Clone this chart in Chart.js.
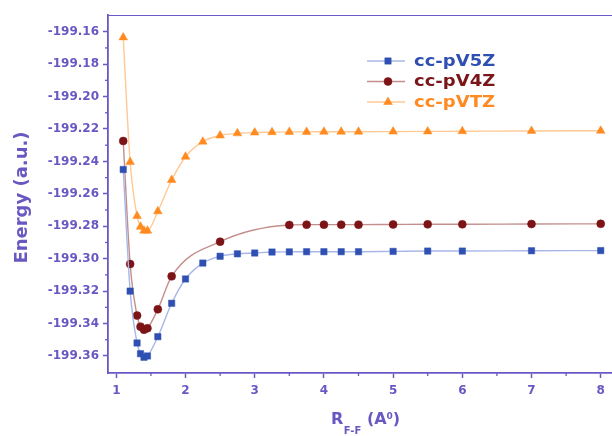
<!DOCTYPE html>
<html><head><meta charset="utf-8">
<script src="https://cdn.jsdelivr.net/npm/chart.js@4"></script>
<style>html,body{margin:0;padding:0;background:#fff;overflow:hidden}</style>
</head><body>
<canvas id="c" width="612" height="436"></canvas>
<script>
// ---------- data ----------
const seriesNames = ['cc-pV5Z', 'cc-pV4Z', 'cc-pVTZ'];

const r5Z = [1.1, 1.2, 1.3, 1.35, 1.4, 1.45, 1.6, 1.8, 2.0, 2.25, 2.5, 2.75, 3.0, 3.25, 3.5, 3.75, 4.0, 4.25, 4.5, 5, 5.5, 6, 7, 8];
const e5Z = [-199.245, -199.320, -199.352, -199.3586, -199.3608, -199.3600, -199.3481, -199.3275, -199.3125, -199.3027, -199.2985, -199.2970, -199.2965, -199.2959, -199.2958, -199.2957, -199.2957, -199.2957, -199.2957, -199.2955, -199.2953, -199.2953, -199.2951, -199.2950];

const r4Z = [1.1, 1.2, 1.3, 1.35, 1.4, 1.45, 1.6, 1.8, 2.5, 3.5, 3.75, 4.0, 4.25, 4.5, 5, 5.5, 6, 7, 8];
const e4Z = [-199.2274, -199.3033, -199.3351, -199.3419, -199.3438, -199.3429, -199.3312, -199.3109, -199.2895, -199.2792, -199.2790, -199.2790, -199.2790, -199.2790, -199.2789, -199.2788, -199.2788, -199.2786, -199.2785];

const rTZ = [1.1, 1.2, 1.3, 1.35, 1.4, 1.45, 1.6, 1.8, 2.0, 2.25, 2.5, 2.75, 3.0, 3.25, 3.5, 3.75, 4.0, 4.25, 4.5, 5, 5.5, 6, 7, 8];
const eTZ = [-199.1635, -199.2404, -199.2737, -199.2803, -199.2827, -199.2827, -199.2708, -199.2515, -199.2371, -199.2278, -199.2240, -199.2227, -199.2222, -199.2220, -199.2218, -199.2218, -199.2217, -199.2217, -199.2217, -199.2216, -199.2215, -199.2214, -199.2212, -199.2211];

const xTickValues = [1, 2, 3, 4, 5, 6, 7, 8];
const xMinorTicks = [1.5, 2.5, 3.5, 4.5, 5.5, 6.5, 7.5];
const yTickValues = [-199.36, -199.34, -199.32, -199.30, -199.28, -199.26, -199.24, -199.22, -199.20, -199.18, -199.16];
const yMinorTicks = [-199.35, -199.33, -199.31, -199.29, -199.27, -199.25, -199.23, -199.21, -199.19, -199.17];

const yTitle = 'Energy (a.u.)';
const xTitleParts = ['R', 'F-F', ' (A', '0', ')'];

// ---------- styles ----------
const AXIS = '#6a58c6';
const TEXT = '#6a58c2';
const FONT = '"DejaVu Sans", sans-serif';
const markerColors = ['#2f50b2', '#7c1417', '#ff8a20'];
const lineColors = ['#a9b7e6', '#c38f8c', '#ffc993'];
const legendColors = ['#2f50b2', '#7a1518', '#ff8a22'];
const styles = ['rect', 'circle', 'triangle'];
const radii = [4.5, 4.0, 5.0];

const pairs = (xs, ys) => xs.map((x, i) => ({x: x, y: ys[i]}));
const allX = [r5Z, r4Z, rTZ];
const allY = [e5Z, e4Z, eTZ];

const datasets = seriesNames.map((name, i) => ({
  label: name,
  data: pairs(allX[i], allY[i]),
  borderColor: lineColors[i],
  backgroundColor: markerColors[i],
  pointBorderColor: markerColors[i],
  pointBackgroundColor: markerColors[i],
  pointStyle: styles[i],
  pointRadius: radii[i],
  pointBorderWidth: 0.5,
  borderWidth: 1.4,
  cubicInterpolationMode: 'monotone',
  fill: false
}));

const decor = {
  id: 'decor',
  afterDraw(chart) {
    const {ctx, chartArea: a, scales: {x, y}} = chart;
    ctx.save();
    // top frame line
    ctx.strokeStyle = AXIS;
    ctx.lineWidth = 1;
    ctx.beginPath();
    ctx.moveTo(a.left, a.top + 0.5);
    ctx.lineTo(a.right, a.top + 0.5);
    ctx.stroke();
    // minor ticks
    ctx.lineWidth = 1.3;
    xMinorTicks.forEach(v => {
      const px = x.getPixelForValue(v);
      ctx.beginPath(); ctx.moveTo(px, a.bottom); ctx.lineTo(px, a.bottom + 3); ctx.stroke();
    });
    yMinorTicks.forEach(v => {
      const py = y.getPixelForValue(v);
      ctx.beginPath(); ctx.moveTo(a.left, py); ctx.lineTo(a.left - 3, py); ctx.stroke();
    });
    // legend
    chart.data.datasets.forEach((ds, i) => {
      const ly = 61 + i * 20.5;
      ctx.strokeStyle = ds.borderColor;
      ctx.lineWidth = 1.4;
      ctx.beginPath(); ctx.moveTo(367, ly); ctx.lineTo(405, ly); ctx.stroke();
      ctx.fillStyle = ds.pointBackgroundColor;
      ctx.strokeStyle = ds.pointBorderColor;
      ctx.lineWidth = 0.5;
      Chart.helpers.drawPoint(ctx, {pointStyle: ds.pointStyle, radius: ds.pointRadius, rotation: 0, borderWidth: 0.5}, 388, ly);
      ctx.save();
      ctx.translate(414, ly);
      ctx.scale(1.2, 1);
      ctx.font = 'bold 15px ' + FONT;
      ctx.textBaseline = 'middle';
      ctx.textAlign = 'left';
      ctx.fillStyle = legendColors[i];
      ctx.fillText(ds.label, 0, 1);
      ctx.restore();
    });
    // y title
    ctx.save();
    ctx.translate(22, 197.5);
    ctx.rotate(-Math.PI / 2);
    ctx.font = 'bold 18px ' + FONT;
    ctx.fillStyle = TEXT;
    ctx.textAlign = 'center';
    ctx.textBaseline = 'middle';
    ctx.fillText(yTitle, 0, 0);
    ctx.restore();
    // x title with subscript / superscript
    ctx.fillStyle = TEXT;
    ctx.textBaseline = 'alphabetic';
    ctx.textAlign = 'left';
    let cx = 331;
    ctx.font = 'bold 16px ' + FONT;
    ctx.fillText(xTitleParts[0], cx, 424); cx += ctx.measureText(xTitleParts[0]).width + 0.5;
    ctx.font = 'bold 10px ' + FONT;
    ctx.fillText(xTitleParts[1], cx, 434); cx += ctx.measureText(xTitleParts[1]).width;
    ctx.font = 'bold 16px ' + FONT;
    ctx.fillText(xTitleParts[2], cx, 424); cx += ctx.measureText(xTitleParts[2]).width;
    ctx.font = 'bold 9px ' + FONT;
    ctx.fillText(xTitleParts[3], cx, 419); cx += ctx.measureText(xTitleParts[3]).width;
    ctx.font = 'bold 16px ' + FONT;
    ctx.fillText(xTitleParts[4], cx, 424);
    ctx.restore();
  }
};

Chart.defaults.font.family = FONT;

new Chart(document.getElementById('c'), {
  type: 'line',
  data: {datasets: datasets},
  options: {
    responsive: false,
    animation: false,
    devicePixelRatio: 1,
    layout: {autoPadding: false, padding: {top: 15, right: 0, left: 0, bottom: 0}},
    plugins: {legend: {display: false}, tooltip: {enabled: false}},
    scales: {
      x: {
        type: 'linear',
        min: 0.88,
        max: 8.163,
        afterBuildTicks: s => { s.ticks = xTickValues.map(v => ({value: v})); },
        afterFit: s => { s.height = 63; s.paddingLeft = 0; s.paddingRight = 0; },
        grid: {drawOnChartArea: false, drawTicks: true, tickLength: 5, tickColor: AXIS, tickWidth: 1.5},
        border: {color: AXIS, width: 1.8},
        ticks: {color: TEXT, font: {size: 12, weight: 'bold'}, padding: 6, maxRotation: 0, callback: v => String(v)}
      },
      y: {
        type: 'linear',
        min: -199.3705,
        max: -199.1497,
        afterBuildTicks: s => { s.ticks = yTickValues.map(v => ({value: v})); },
        afterFit: s => { s.width = 108; s.paddingTop = 0; s.paddingBottom = 0; },
        grid: {drawOnChartArea: false, drawTicks: true, tickLength: 5, tickColor: AXIS, tickWidth: 1.5},
        border: {color: AXIS, width: 1.8},
        ticks: {color: TEXT, font: {size: 12, weight: 'bold'}, padding: 4, callback: v => v.toFixed(2)}
      }
    }
  },
  plugins: [decor]
});
</script>
</body></html>
